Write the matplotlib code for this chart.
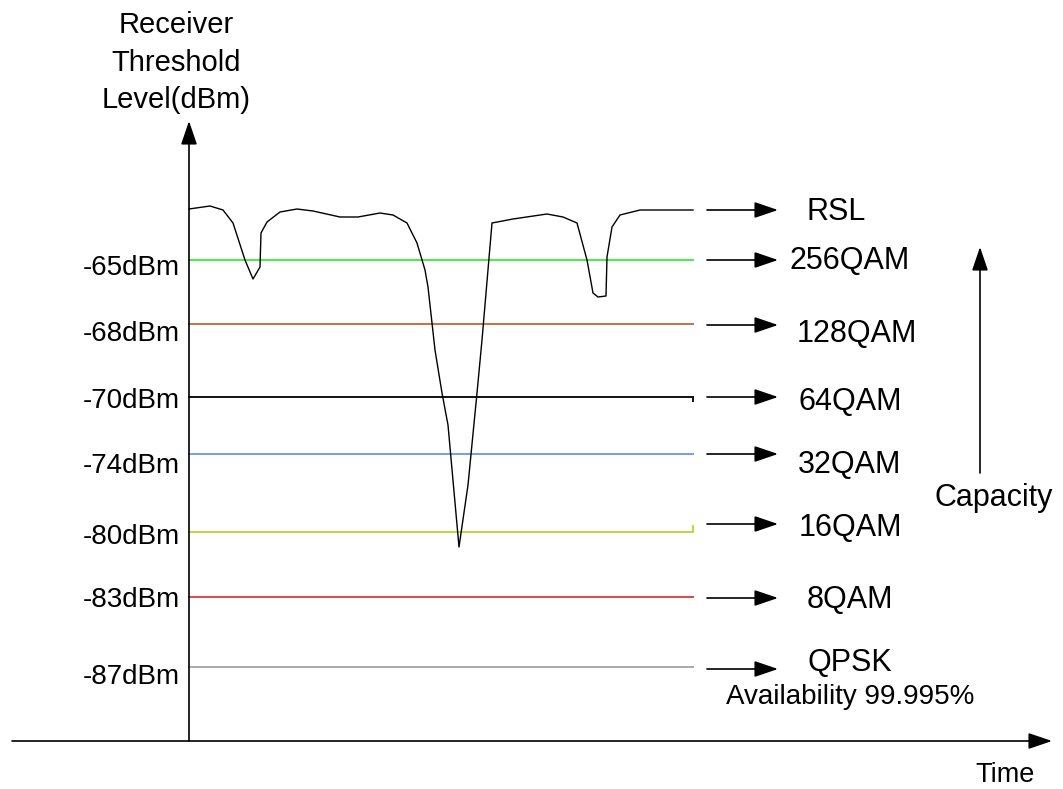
import numpy as np
import matplotlib.pyplot as plt

plt.rcParams['font.family'] = ['Liberation Sans', 'DejaVu Sans']

# schematic diagram units (y grows downwards, like the drawing)
level_labels = ['-65dBm', '-68dBm', '-70dBm', '-74dBm', '-80dBm', '-83dBm', '-87dBm']
level_y = [260, 324, 397, 454, 532, 597, 667]
level_text_y = [265, 331, 398, 463, 534, 597, 674]
level_colors = ['#44ee44', '#c87048', '#111111', '#7799ff', '#bcd83a', '#e04848', '#aaaaaa']
mod_names = ['256QAM', '128QAM', '64QAM', '32QAM', '16QAM', '8QAM', 'QPSK']
mod_arrow_y = [260, 325, 397, 454, 524, 598, 669]
mod_text_x = [850, 857, 850, 850, 850, 850, 850]
mod_text_y = [258, 331, 399, 462, 525, 597, 660]

# received signal level trace
rsl_x = [189, 210, 223, 233, 245, 253, 260, 261, 267, 280, 297, 313, 340, 358,
         380, 393, 407, 417, 425, 428, 435, 442, 448, 459, 468, 477, 482, 492,
         513, 547, 563, 577, 587, 593, 598, 606, 607, 612, 620, 640, 693]
rsl_y = [209, 206, 210, 223, 260, 279, 267, 233, 222, 212, 209, 211, 217, 217,
         213, 215, 223, 243, 270, 287, 350, 393, 425, 547, 485, 393, 340, 223,
         219, 214, 217, 223, 260, 293, 297, 296, 257, 227, 215, 210, 210]

fig = plt.figure(figsize=(10.63, 7.89), dpi=100)
ax = fig.add_axes([0, 0, 1, 1])
ax.set_xlim(0, 1063)
ax.set_ylim(789, 0)
ax.axis('off')


def label(x, ymid, s, size, ha='center'):
    # place text so that its capital letters are centred on ymid
    half_cap = 0.716 * size * 100 / 72 / 2
    ax.text(x, ymid + half_cap, s, ha=ha, va='baseline', fontsize=size)


arrow = dict(arrowstyle='-|>,head_length=1.0,head_width=0.34', mutation_scale=14.5,
             color='black', lw=1.2, shrinkA=0, shrinkB=0)

# axes arrows
ax.annotate('', xy=(189, 121), xytext=(189, 741), arrowprops=arrow)
ax.annotate('', xy=(1052, 741), xytext=(12, 741), arrowprops=arrow)

# threshold lines
for y, ty, c, lab in zip(level_y, level_text_y, level_colors, level_labels):
    ax.plot([189, 693], [y, y], color=c, lw=1.4)
    label(180, ty, lab, 20, ha='right')
ax.plot([693, 693], [532, 526], color=level_colors[4], lw=1.4)
ax.plot([693, 693], [397, 401], color=level_colors[2], lw=1.4)

ax.plot(rsl_x, rsl_y, color='black', lw=1.0)

# right-hand arrows and labels
ax.annotate('', xy=(778, 210), xytext=(707, 210), arrowprops=arrow)
label(836, 209, 'RSL', 22)
for ya, tx, ty, name in zip(mod_arrow_y, mod_text_x, mod_text_y, mod_names):
    ax.annotate('', xy=(778, ya), xytext=(707, ya), arrowprops=arrow)
    label(tx, ty, name, 22)
label(850, 694, 'Availability 99.995%', 20)

ax.annotate('', xy=(980, 247), xytext=(980, 473), arrowprops=arrow)
label(994, 495, 'Capacity', 22)
label(1005, 772, 'Time', 19.5)
for ty, line in zip([23, 61, 98], ['Receiver', 'Threshold', 'Level(dBm)']):
    label(176, ty, line, 21)

fig.savefig('out.png', dpi=100)
